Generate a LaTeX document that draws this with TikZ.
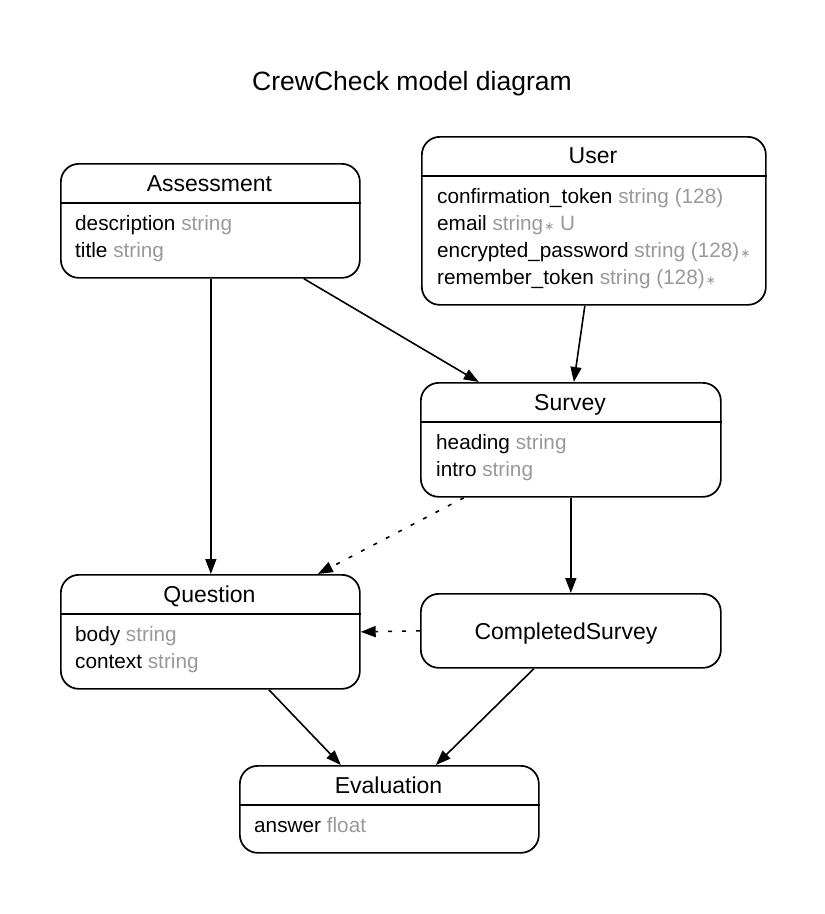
\documentclass[tikz,border=0pt]{standalone}
\usepackage{fontspec}
\setmainfont{Liberation Sans}
\newfontfamily\symfont{DejaVu Sans}
\usetikzlibrary{arrows.meta}
\definecolor{fieldgray}{HTML}{999999}
\newcommand{\ty}[1]{\textcolor{fieldgray}{#1}}
\newcommand{\req}{\textcolor{fieldgray}{\kern1pt{\symfont\fontsize{12}{12}\selectfont ∗}}}
\begin{document}
\begin{tikzpicture}[x=1pt,y=-1pt,
  entity/.style={draw, line width=1.7pt, rounded corners=18pt, inner sep=0pt, anchor=north west},
  hdrline/.style={line width=1.7pt},
  hdr/.style={font=\fontsize{23}{27}\selectfont, anchor=base, inner sep=0pt},
  fld/.style={font=\fontsize{20.75}{25}\selectfont, anchor=base west, inner sep=0pt},
  conn/.style={line width=1.6pt, -{Triangle[length=15pt,width=11pt]}},
  dotconn/.style={conn, dash pattern=on 4pt off 10pt},
]
\useasboundingbox (0,0) rectangle (825,914);

\node[font=\fontsize{26.5}{30}\selectfont, anchor=base, inner sep=0pt] (title) at (412,90.5) {CrewCheck model diagram};

% Assessment
\node[entity, minimum width=299pt, minimum height=114pt] (assess) at (60,163) {};
\draw[hdrline] (assess.west |- 0,203) -- (assess.east |- 0,203);
\node[hdr] (assessT) at (209.5,191) {Assessment};
\node[fld] (assessF1) at (75,230.5) {description \ty{string}};
\node[fld] (assessF2) at (75,257) {title \ty{string}};

% User
\node[entity, minimum width=344pt, minimum height=168pt] (user) at (421,136) {};
\draw[hdrline] (user.west |- 0,176) -- (user.east |- 0,176);
\node[hdr] (userT) at (593,163.5) {User};
\node[fld] (userF1) at (437,203.5) {confirmation\_token \ty{string (128)}};
\node[fld] (userF2) at (437,230.5) {email \ty{string}\req\ \ty{U}};
\node[fld] (userF3) at (437,257.5) {encrypted\_password \ty{string (128)}\req};
\node[fld] (userF4) at (437,284.5) {remember\_token \ty{string (128)}\req};

% Survey
\node[entity, minimum width=300pt, minimum height=114pt] (survey) at (420,382) {};
\draw[hdrline] (survey.west |- 0,422) -- (survey.east |- 0,422);
\node[hdr] (surveyT) at (570,410) {Survey};
\node[fld] (surveyF1) at (436,449) {heading \ty{string}};
\node[fld] (surveyF2) at (436,476) {intro \ty{string}};

% Question
\node[entity, minimum width=299pt, minimum height=114pt] (question) at (60,574) {};
\draw[hdrline] (question.west |- 0,614) -- (question.east |- 0,614);
\node[hdr] (questionT) at (209.5,602) {Question};
\node[fld] (questionF1) at (75,641) {body \ty{string}};
\node[fld] (questionF2) at (75,668) {context \ty{string}};

% CompletedSurvey
\node[entity, minimum width=300pt, minimum height=74pt] (cs) at (420,593) {};
\node[hdr] (csT) at (566,639) {CompletedSurvey};

% Evaluation
\node[entity, minimum width=299pt, minimum height=87pt] (eval) at (239,765) {};
\draw[hdrline] (eval.west |- 0,805) -- (eval.east |- 0,805);
\node[hdr] (evalT) at (388.5,793) {Evaluation};
\node[fld] (evalF1) at (254,832) {answer \ty{float}};

% Connectors
\draw[conn] ([xshift=0.5pt]assess.south) -- ([xshift=0.5pt]question.north);
\draw[conn] ([xshift=93.5pt]assess.south) -- ([xshift=-92pt]survey.north);
\draw[conn] ([xshift=-9pt]user.south) -- ([xshift=3pt]survey.north);
\draw[dotconn] ([xshift=-107pt]survey.south) -- ([xshift=107.5pt]question.north);
\draw[conn] (survey.south) -- (cs.north);
\draw[dotconn] (cs.west) -- (question.east);
\draw[conn] ([xshift=58.5pt]question.south) -- ([xshift=-48.5pt]eval.north);
\draw[conn] ([xshift=-37pt]cs.south) -- ([xshift=46.5pt]eval.north);
\end{tikzpicture}
\end{document}
